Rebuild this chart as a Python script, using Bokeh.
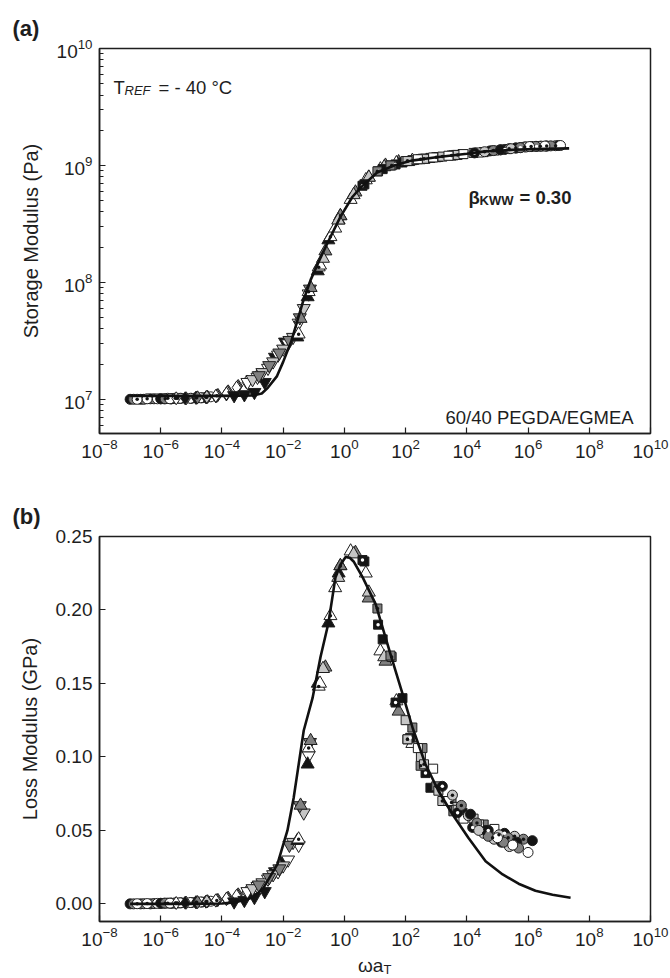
from bokeh.plotting import figure
from bokeh.layouts import column
from bokeh.models import (ColumnDataSource, FixedTicker, Label, Range1d,
                          PrintfTickFormatter, Div)
from bokeh.embed import file_html
from bokeh.resources import INLINE

# ---------------- data ----------------
series_shape = ["circle", "circle", "circle", "circle", "circle", "circle",
                "diamond", "diamond", "diamond", "diamond", "diamond",
                "inverted_triangle", "inverted_triangle", "inverted_triangle", "inverted_triangle",
                "triangle", "triangle", "triangle", "triangle", "triangle",
                "square", "square", "square", "square", "square", "square", "square",
                "circle", "circle", "circle", "circle", "circle", "circle", "circle"]
series_fill = ["k", "g", "w", "k", "g", "w",
               "w", "k", "g", "l", "w",
               "k", "w", "l", "g",
               "k", "w", "g", "w", "l",
               "k", "k", "g", "g", "l", "l", "w",
               "k", "l", "g", "k", "l", "g", "w"]
series_dot = [False, False, True, False, True, False,
              True, False, False, False, False,
              False, False, False, False,
              False, True, False, False, False,
              True, False, True, False, False, True, False,
              True, True, True, False, False, False, False]

# reduced frequency (panel b)
series_x = [
    [1.0e-7, 2.2e-7, 4.6e-7, 1.0e-6, 2.2e-6],
    [1.3e-7, 2.8e-7, 6.0e-7, 1.3e-6, 2.8e-6],
    [1.7e-7, 3.6e-7, 7.8e-7, 1.7e-6, 3.6e-6],
    [1.0e-6, 2.2e-6, 4.6e-6, 1.0e-5, 2.2e-5],
    [1.4e-6, 3.0e-6, 6.5e-6, 1.4e-5, 3.0e-5],
    [2.0e-6, 4.3e-6, 9.3e-6, 2.0e-5, 4.3e-5],
    [3.2e-6, 6.8e-6, 1.5e-5, 3.2e-5, 6.8e-5],
    [6.3e-6, 1.4e-5, 3.0e-5, 6.3e-5, 1.4e-4],
    [1.6e-5, 3.4e-5, 7.4e-5, 1.6e-4, 3.4e-4],
    [3.2e-5, 6.8e-5, 1.5e-4, 3.2e-4, 6.8e-4],
    [6.3e-5, 1.4e-4, 3.0e-4, 6.3e-4, 1.4e-3],
    [2.5e-4, 5.4e-4, 1.15e-3, 2.5e-3, 5.4e-3, 1.15e-2],
    [6.8e-4, 1.45e-3, 3.2e-3, 6.8e-3, 1.45e-2, 3.2e-2, 6.8e-2],
    [1.0e-3, 2.1e-3, 4.7e-3, 1.0e-2, 2.1e-2, 4.7e-2],
    [1.6e-3, 3.5e-3, 7.5e-3, 1.6e-2, 3.5e-2, 7.5e-2],
    [2.9e-2, 6.3e-2, 1.35e-1, 3.0e-1, 6.5e-1],
    [3.2e-2, 6.8e-2, 1.45e-1, 3.5e-1, 7.4e-1],
    [3.7e-2, 7.9e-2, 2.4e-1, 7.4e-1, 2.3, 6.2, 22.0, 59.0],
    [1.6e-1, 5.0e-1, 1.6, 5.0, 15.0, 50.0, 166.0],
    [2.0e-1, 6.3e-1, 2.0, 6.3, 20.0],
    [3.9, 12.6, 47.0, 141.0, 447.0],
    [4.5, 17.8, 79.0, 646.0, 7240.0],
    [12.0, 35.0, 115.0, 309.0, 1000.0, 3160.0],
    [32.0, 166.0, 355.0, 3630.0, 35500.0],
    [100.0, 316.0, 1175.0, 4470.0, 16600.0],
    [115.0, 400.0, 1585.0, 5000.0],
    [251.0, 794.0, 2510.0, 7760.0, 25100.0, 79400.0],
    [1585.0, 5000.0, 15500.0, 50100.0, 170000.0],
    [3390.0, 11200.0, 35500.0, 112000.0, 363000.0],
    [6610.0, 21400.0, 69200.0, 224000.0, 708000.0],
    [13200.0, 41700.0, 135000.0, 427000.0, 1380000.0],
    [24500.0, 77600.0, 245000.0],
    [50100.0, 158000.0, 490000.0],
    [100000.0, 316000.0, 1000000.0],
]
# reduced frequency where panel (a) differs (None = same as panel b)
series_xa = [None] * 27 + [
    [17800.0, 56200.0, 174000.0, 562000.0, 1910000.0],
    [38000.0, 126000.0, 398000.0, 1260000.0, 4070000.0],
    [74100.0, 240000.0, 776000.0, 2510000.0, 7940000.0],
    [126000.0, 398000.0, 1260000.0, 3980000.0, 10000000.0],
    [275000.0, 871000.0, 2750000.0],
    [562000.0, 1780000.0, 5500000.0],
    [1120000.0, 3550000.0, 11500000.0],
]
# storage modulus (Pa), panel a
series_storage = [
    [1.00e7, 1.00e7, 1.01e7, 1.01e7, 1.01e7],
    [1.00e7, 1.00e7, 1.01e7, 1.01e7, 1.02e7],
    [1.00e7, 1.01e7, 1.01e7, 1.02e7, 1.02e7],
    [1.01e7, 1.01e7, 1.02e7, 1.02e7, 1.03e7],
    [1.01e7, 1.02e7, 1.02e7, 1.03e7, 1.04e7],
    [1.01e7, 1.02e7, 1.02e7, 1.03e7, 1.05e7],
    [1.02e7, 1.02e7, 1.03e7, 1.04e7, 1.07e7],
    [1.02e7, 1.03e7, 1.04e7, 1.06e7, 1.10e7],
    [1.04e7, 1.05e7, 1.09e7, 1.17e7, 1.30e7],
    [1.05e7, 1.08e7, 1.15e7, 1.28e7, 1.42e7],
    [1.07e7, 1.12e7, 1.26e7, 1.40e7, 1.58e7],
    [1.08e7, 1.10e7, 1.15e7, 1.40e7, 2.30e7, 3.10e7],
    [1.40e7, 1.55e7, 1.85e7, 2.40e7, 3.00e7, 4.50e7, 8.00e7],
    [1.48e7, 1.70e7, 2.10e7, 2.70e7, 3.40e7, 6.00e7],
    [1.60e7, 1.95e7, 2.50e7, 3.20e7, 5.00e7, 8.80e7],
    [3.4e7, 7.5e7, 1.25e8, 2.3e8, 3.4e8],
    [3.6e7, 8.3e7, 1.35e8, 2.45e8, 3.7e8],
    [4.9e7, 9.0e7, 1.85e8, 3.7e8, 5.9e8, 7.9e8, 1.0e9, 1.07e9],
    [1.4e8, 2.9e8, 5.1e8, 7.5e8, 9.3e8, 1.05e9, 1.10e9],
    [1.6e8, 3.4e8, 5.6e8, 7.9e8, 9.7e8],
    [6.7e8, 8.9e8, 1.02e9, 1.09e9, 1.14e9],
    [6.9e8, 9.3e8, 1.06e9, 1.16e9, 1.25e9],
    [8.9e8, 1.0e9, 1.09e9, 1.13e9, 1.175e9, 1.215e9],
    [1.0e9, 1.11e9, 1.14e9, 1.22e9, 1.30e9],
    [1.09e9, 1.135e9, 1.18e9, 1.23e9, 1.28e9],
    [1.09e9, 1.14e9, 1.19e9, 1.23e9],
    [1.13e9, 1.17e9, 1.21e9, 1.25e9, 1.29e9, 1.34e9],
    [1.28e9, 1.33e9, 1.37e9, 1.42e9, 1.455e9],
    [1.31e9, 1.36e9, 1.41e9, 1.45e9, 1.465e9],
    [1.34e9, 1.39e9, 1.44e9, 1.46e9, 1.475e9],
    [1.36e9, 1.41e9, 1.45e9, 1.465e9, 1.48e9],
    [1.39e9, 1.44e9, 1.46e9],
    [1.42e9, 1.455e9, 1.47e9],
    [1.45e9, 1.465e9, 1.48e9],
]
# loss modulus (GPa), panel b
series_loss = [
    [0.0, 0.0, 0.0, 0.0003, 0.0004],
    [0.0, 0.0001, 0.0002, 0.0004, 0.0005],
    [0.0001, 0.0002, 0.0003, 0.0005, 0.0006],
    [0.0004, 0.0005, 0.0007, 0.0009, 0.0012],
    [0.0005, 0.0006, 0.0008, 0.0011, 0.0015],
    [0.0005, 0.0007, 0.0009, 0.0013, 0.0018],
    [0.0006, 0.0008, 0.0011, 0.0016, 0.0023],
    [0.0008, 0.0011, 0.0015, 0.0022, 0.0033],
    [0.0012, 0.0018, 0.0027, 0.0042, 0.0065],
    [0.0017, 0.0025, 0.0038, 0.0058, 0.0082],
    [0.0024, 0.0035, 0.0055, 0.0080, 0.0115],
    [0.0015, 0.0025, 0.0045, 0.0085, 0.022, 0.029],
    [0.0085, 0.012, 0.017, 0.022, 0.030, 0.040, 0.101],
    [0.0105, 0.0145, 0.020, 0.026, 0.042, 0.062],
    [0.013, 0.018, 0.024, 0.040, 0.067, 0.110],
    [0.043, 0.095, 0.150, 0.191, 0.225],
    [0.044, 0.106, 0.148, 0.196, 0.230],
    [0.067, 0.111, 0.161, 0.230, 0.239, 0.208, 0.165, 0.131],
    [0.150, 0.215, 0.240, 0.225, 0.172, 0.138, 0.109],
    [0.160, 0.222, 0.238, 0.212, 0.168],
    [0.234, 0.190, 0.137, 0.113, 0.089],
    [0.233, 0.180, 0.140, 0.079, 0.062],
    [0.201, 0.168, 0.112, 0.094, 0.080, 0.069],
    [0.169, 0.120, 0.106, 0.063, 0.054],
    [0.125, 0.100, 0.077, 0.066, 0.058],
    [0.112, 0.095, 0.070, 0.064],
    [0.106, 0.092, 0.070, 0.058, 0.054, 0.051],
    [0.080, 0.062, 0.052, 0.050, 0.048],
    [0.074, 0.060, 0.048, 0.047, 0.046],
    [0.067, 0.055, 0.045, 0.045, 0.044],
    [0.061, 0.050, 0.042, 0.042, 0.043],
    [0.050, 0.044, 0.039],
    [0.046, 0.042, 0.038],
    [0.045, 0.040, 0.035],
]

# KWW fit curves
curve_a_x = [1e-7, 1e-5, 1e-4, 1e-3, 2.0e-3, 3.2e-3, 6.3e-3, 1.0e-2, 1.86e-2, 4.5e-2,
             7.9e-2, 0.158, 0.31, 0.74, 1.82, 3.4, 11.7, 42.0, 158.0, 1e3, 1e4, 4e4,
             3.2e5, 1.6e6, 2.2e7]
curve_a_y = [1.07e7, 1.07e7, 1.07e7, 1.08e7, 1.12e7, 1.26e7, 1.58e7, 2.09e7, 3.16e7, 6.9e7,
             1.05e8, 1.58e8, 2.29e8, 3.63e8, 5.37e8, 6.46e8, 8.7e8, 1.0e9, 1.10e9, 1.175e9,
             1.26e9, 1.32e9, 1.36e9, 1.38e9, 1.40e9]
curve_b_x = [1e-7, 1e-5, 1e-4, 2.5e-4, 5e-4, 1.07e-3, 2.3e-3, 6.5e-3, 1.38e-2, 2.2e-2,
             4.7e-2, 9.1e-2, 0.166, 0.30, 0.51, 0.75, 1.1, 1.5, 2.0, 4.0, 10.5, 32.0, 79.0,
             174.0, 447.0, 1175.0, 3390.0, 1.12e4, 4.1e4, 1.48e5, 4.9e5, 1.74e6, 6.3e6, 2.45e7]
curve_b_y = [0.0, 0.0, 0.0003, 0.001, 0.0025, 0.0045, 0.011, 0.027, 0.050, 0.072,
             0.118, 0.140, 0.168, 0.191, 0.222, 0.231, 0.236, 0.2355, 0.233, 0.222, 0.204, 0.170, 0.143,
             0.119, 0.095, 0.077, 0.061, 0.045, 0.029, 0.020, 0.0137, 0.0089, 0.0062, 0.0042]

x_ticks = [1e-8, 1e-6, 1e-4, 1e-2, 1e0, 1e2, 1e4, 1e6, 1e8, 1e10]
ya_ticks = [1e7, 1e8, 1e9, 1e10]
yb_ticks = [0.0, 0.05, 0.10, 0.15, 0.20, 0.25]

# ---------------- styling ----------------
FILL = {"k": "#141414", "g": "#808080", "l": "#c6c6c6", "w": "#ffffff"}
SIZE = {"circle": 10, "square": 9, "triangle": 13, "inverted_triangle": 13, "diamond": 13}
INK = "#1e1e1e"
FONT = "Liberation Sans"

rows = dict(xa=[], xb=[], ga=[], gb=[], marker=[], fill=[], size=[])
dots = dict(xa=[], xb=[], ga=[], gb=[], fill=[])
for i, shp in enumerate(series_shape):
    xb = series_x[i]
    xa = series_xa[i] if series_xa[i] is not None else xb
    for j in range(len(xb)):
        rows["xa"].append(xa[j]); rows["xb"].append(xb[j])
        rows["ga"].append(series_storage[i][j]); rows["gb"].append(series_loss[i][j])
        rows["marker"].append(shp); rows["fill"].append(FILL[series_fill[i]])
        rows["size"].append(SIZE[shp])
        if series_dot[i]:
            dots["xa"].append(xa[j]); dots["xb"].append(xb[j])
            dots["ga"].append(series_storage[i][j]); dots["gb"].append(series_loss[i][j])
            dots["fill"].append("#ffffff" if series_fill[i] == "k" else "#141414")
src = ColumnDataSource(rows)
dsrc = ColumnDataSource(dots)


def style(p, panel_tag):
    p.outline_line_color = INK
    p.outline_line_width = 1.5
    p.xgrid.visible = False
    p.ygrid.visible = False
    for ax in (p.xaxis[0], p.yaxis[0]):
        ax.axis_line_color = INK
        ax.axis_line_width = 1.5
        ax.major_tick_line_color = INK
        ax.minor_tick_line_color = INK
        ax.major_tick_line_width = 1.2
        ax.minor_tick_line_width = 1.0
        ax.major_tick_in = 6
        ax.major_tick_out = 0
        ax.minor_tick_in = 4
        ax.minor_tick_out = 0
        ax.major_label_text_font = FONT
        ax.major_label_text_font_size = "19px"
        ax.major_label_text_color = INK
        ax.axis_label_text_font = FONT
        ax.axis_label_text_font_size = "20px"
        ax.axis_label_text_font_style = "normal"
        ax.axis_label_text_color = INK
    p.xaxis.major_label_standoff = 5
    p.yaxis.major_label_standoff = 7
    p.yaxis.axis_label_standoff = 12
    p.xaxis.ticker = FixedTicker(ticks=x_ticks)
    # panel tag "(a)" / "(b)" drawn as the figure title, pushed to the left edge
    p.title.text = panel_tag
    p.title.align = "left"
    p.title.offset = -87
    p.title.standoff = 16
    p.title.text_font = FONT
    p.title.text_font_size = "22px"
    p.title.text_font_style = "bold"
    p.title.text_color = INK


def lab(p, x, y, text, size="18.5px", style_="normal", baseline="alphabetic"):
    p.add_layout(Label(x=x, y=y, x_units="screen", y_units="screen", text=text,
                       text_font=FONT, text_font_size=size, text_font_style=style_,
                       text_color=INK, text_baseline=baseline, text_align="left"))


# ---------------- panel (a) ----------------
pa = figure(width=670, height=489, x_axis_type="log", y_axis_type="log",
            x_range=Range1d(1e-8, 1e10), y_range=Range1d(5.1e6, 1e10),
            output_backend="svg", toolbar_location=None,
            min_border_left=99, min_border_right=20, min_border_top=48, min_border_bottom=56)
style(pa, "(a)")
pa.yaxis.ticker = FixedTicker(ticks=ya_ticks,
                              minor_ticks=[k * 10.0 ** n for n in range(6, 10) for k in range(2, 10)])
pa.yaxis.axis_label = "Storage Modulus (Pa)"
pa.scatter("xa", "ga", source=src, marker="marker", size="size", fill_color="fill",
           line_color=INK, line_width=1)
pa.scatter("xa", "ga", source=dsrc, marker="circle", size=3.5, fill_color="fill", line_color=None)
pa.line(curve_a_x, curve_a_y, line_color="#111111", line_width=2.6)

lab(pa, 14, 346, "T")
lab(pa, 25, 343, "REF", size="13px", style_="italic")
lab(pa, 59, 346, "= - 40 °C")
lab(pa, 369, 236, "β", style_="bold")
lab(pa, 380, 233, "KWW", size="13px", style_="bold")
lab(pa, 420, 236, "= 0.30", style_="bold")
lab(pa, 346, 16, "60/40 PEGDA/EGMEA")

# ---------------- panel (b) ----------------
pb = figure(width=670, height=468, x_axis_type="log",
            x_range=Range1d(1e-8, 1e10), y_range=Range1d(-0.012, 0.25),
            output_backend="svg", toolbar_location=None,
            min_border_left=99, min_border_right=20, min_border_top=47, min_border_bottom=36)
style(pb, "(b)")
pb.yaxis.ticker = FixedTicker(ticks=yb_ticks)
pb.yaxis.formatter = PrintfTickFormatter(format="%.2f")
pb.yaxis.axis_label = "Loss Modulus (GPa)"
pb.scatter("xb", "gb", source=src, marker="marker", size="size", fill_color="fill",
           line_color=INK, line_width=1)
pb.scatter("xb", "gb", source=dsrc, marker="circle", size=3.5, fill_color="fill", line_color=None)
pb.line(curve_b_x, curve_b_y, line_color="#111111", line_width=2.6)

xlabel_b = Div(text=('<div style="margin:0;padding:0 0 0 358px;'
                     f"font-family:'{FONT}';font-size:19px;line-height:18px;"
                     f'color:{INK};white-space:nowrap">ωa<sub style="font-size:13px;'
                     'vertical-align:-2px;line-height:0">T</sub></div>'),
               width=670, height=21, margin=(0, 0, 0, 0))

layout = column(pa, pb, xlabel_b, spacing=0)
open("out.html", "w").write(file_html(layout, INLINE))
